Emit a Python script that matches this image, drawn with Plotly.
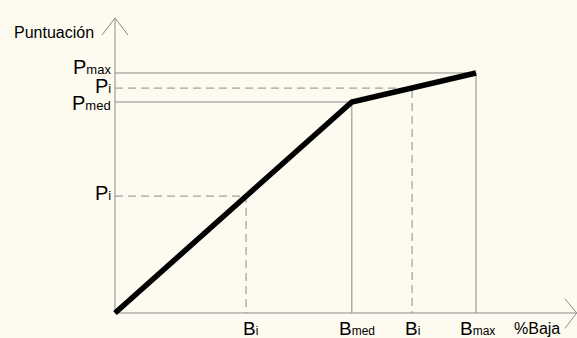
import plotly.graph_objects as go

# values (x: % baja, y: puntuación)
b_vals = [36.3, 65.6, 82.3, 100.0]          # Bi, Bmed, Bi, Bmax
b_main = ["B", "B", "B", "B"]
b_sub = ["i", "med", "i", "max"]
p_vals = [48.7, 87.9, 93.7, 100.0]          # Pi, Pmed, Pi, Pmax
p_main = ["P", "P", "P", "P"]
p_sub = ["i", "med", "i", "max"]
guide_dash = ["dash", "solid", "dash", "solid"]

curve_x = [0, 65.6, 100.0]
curve_y = [0, 87.9, 100.0]

x_axis_end = 127.9
y_axis_end = 122.9

GRAY = "#8a8a8a"
BG = "#fdfbef"
FONT = "Liberation Sans, Arial, sans-serif"

fig = go.Figure()

# guide lines (horizontal to the curve, then down to the x axis)
for bx, py, d in zip(b_vals, p_vals, guide_dash):
    fig.add_trace(go.Scatter(
        x=[0, bx, bx], y=[py, py, 0],
        mode="lines",
        line=dict(color=GRAY, width=1, dash="8px,5px" if d == "dash" else "solid"),
        hoverinfo="skip", showlegend=False
    ))

# axes with open arrow heads
fig.add_trace(go.Scatter(
    x=[0, 0, None, -3.6, 0, 3.6],
    y=[0, y_axis_end, None, 115.8, y_axis_end, 115.8],
    mode="lines", line=dict(color=GRAY, width=1),
    hoverinfo="skip", showlegend=False
))
fig.add_trace(go.Scatter(
    x=[0, x_axis_end, None, 124.6, x_axis_end, 124.6],
    y=[0, 0, None, 6.0, 0, -6.5],
    mode="lines", line=dict(color=GRAY, width=1),
    hoverinfo="skip", showlegend=False
))

# the scoring curve
fig.add_trace(go.Scatter(
    x=curve_x, y=curve_y,
    mode="lines", line=dict(color="black", width=5.5),
    hoverinfo="skip", showlegend=False
))

annotations = []
p_shift = [3, -1, 2, 6]
for py, m, s, ys in zip(p_vals, p_main, p_sub, p_shift):
    annotations.append(dict(
        x=0, y=py, xref="x", yref="y",
        text=f"{m}<span style='font-size:13px'>{s}</span>",
        showarrow=False, xanchor="right", yanchor="middle",
        xshift=-2, yshift=ys,
        font=dict(family=FONT, size=20, color="black")
    ))

b_shift = [4, 5, 0, 1]
for bx, m, s, xs in zip(b_vals, b_main, b_sub, b_shift):
    annotations.append(dict(
        x=bx, y=0, xref="x", yref="y",
        text=f"{m}<span style='font-size:12px'>{s}</span>",
        showarrow=False, xanchor="center", yanchor="middle",
        xshift=xs, yshift=-16,
        font=dict(family=FONT, size=19, color="black")
    ))

annotations.append(dict(
    x=116.8, y=0, xref="x", yref="y",
    text="%Baja", showarrow=False, xanchor="center", yanchor="middle",
    yshift=-16,
    font=dict(family=FONT, size=16, color="black")
))
annotations.append(dict(
    x=0, y=y_axis_end, xref="x", yref="y",
    text="Puntuación", showarrow=False, xanchor="right", yanchor="middle",
    xshift=-19, yshift=-14,
    font=dict(family=FONT, size=16, color="black")
))

fig.update_layout(
    width=577, height=338,
    margin=dict(l=0, r=0, t=0, b=0),
    paper_bgcolor=BG, plot_bgcolor=BG,
    annotations=annotations,
    showlegend=False,
    xaxis=dict(range=[-31.86, 127.98], visible=False, fixedrange=True),
    yaxis=dict(range=[-10.42, 130.4], visible=False, fixedrange=True),
)

fig.write_html("out.html", config={"displayModeBar": False},
               post_script="document.body.style.margin='0';document.body.style.background='%s';" % BG)
